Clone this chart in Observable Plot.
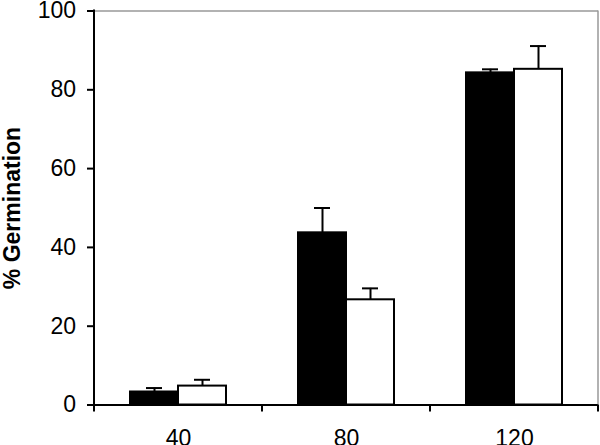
<!DOCTYPE html>
<html><head><meta charset="utf-8">
<script src="https://cdn.jsdelivr.net/npm/d3@7"></script>
<script src="https://cdn.jsdelivr.net/npm/@observablehq/plot@0.6"></script>
<style>body{margin:0;background:#fff}</style>
</head><body><div id="chart"></div>
<script>
const doses = [40, 80, 120];
const series = ["A", "B"];
const fills = ["black", "white"];
const meansA = [3.3, 43.7, 84.3];
const errA = [1.0, 6.3, 0.9];
const meansB = [4.8, 26.7, 85.2];
const errB = [1.6, 2.9, 5.9];
const yTicks = [0, 20, 40, 60, 80, 100];
const yLabel = "% Germination";

const rows = [];
doses.forEach((d, i) => {
  rows.push({dose: d, series: series[0], value: meansA[i], err: errA[i]});
  rows.push({dose: d, series: series[1], value: meansB[i], err: errB[i]});
});
const errTop = r => r.value + r.err;

const chart = Plot.plot({
  width: 600, height: 445,
  marginLeft: 93, marginRight: 2, marginTop: 10.5, marginBottom: 40.5,
  style: {fontFamily: "'Liberation Sans', Arial, sans-serif", fontSize: "23px", color: "black", background: "white"},
  fx: {domain: doses, padding: 0, label: null},
  x: {domain: series, paddingInner: 0, paddingOuter: 0.735, axis: null},
  y: {domain: [0, 100], axis: null},
  color: {domain: series, range: fills},
  marks: [
    Plot.ruleY([100], {stroke: "#999", strokeWidth: 1.5}),
    Plot.ruleX(rows, {fx: "dose", x: "series", y1: "value", y2: errTop, stroke: "black", strokeWidth: 2}),
    Plot.tickY(rows, {fx: "dose", x: "series", y: errTop, stroke: "black", strokeWidth: 2, insetLeft: 16, insetRight: 16}),
    Plot.barY(rows, {fx: "dose", x: "series", y: "value", fill: "series", stroke: "black", strokeWidth: 2}),
    Plot.ruleY([0], {stroke: "black", strokeWidth: 2}),
    Plot.axisY({ticks: yTicks, tickSize: 7, tickPadding: 11.5, fontSize: 23, strokeWidth: 2, label: null}),
    Plot.axisY({ticks: [], label: yLabel, labelAnchor: "center", labelArrow: "none", labelOffset: 91, fontSize: 23, fontWeight: "bold"}),
    Plot.axisFx({anchor: "bottom", tickSize: 0, tickPadding: 24.5, fontSize: 23, label: null})
  ]
});
document.getElementById("chart").appendChild(chart);

// frame lines and group-boundary ticks from the chart's own scales
const fx = chart.scale("fx"), y = chart.scale("y");
const svg = d3.select(chart.tagName.toLowerCase() === "svg" ? chart : chart.querySelector("svg"));
const y0 = y.apply(0), y1 = y.apply(100);
const xs = doses.map(d => fx.apply(d));
const xEnd = xs[xs.length - 1] + fx.bandwidth;
const g = svg.append("g");
g.append("line").attr("x1", xEnd).attr("x2", xEnd).attr("y1", y1).attr("y2", y0).attr("stroke", "#999").attr("stroke-width", 1.5);
g.append("line").attr("x1", xs[0]).attr("x2", xs[0]).attr("y1", y1 - 1).attr("y2", y0 + 1).attr("stroke", "black").attr("stroke-width", 2);
[...xs, xEnd].forEach(x => {
  g.append("line").attr("x1", x).attr("x2", x).attr("y1", y0).attr("y2", y0 + 7).attr("stroke", "black").attr("stroke-width", 2);
});
</script>
</body></html>
